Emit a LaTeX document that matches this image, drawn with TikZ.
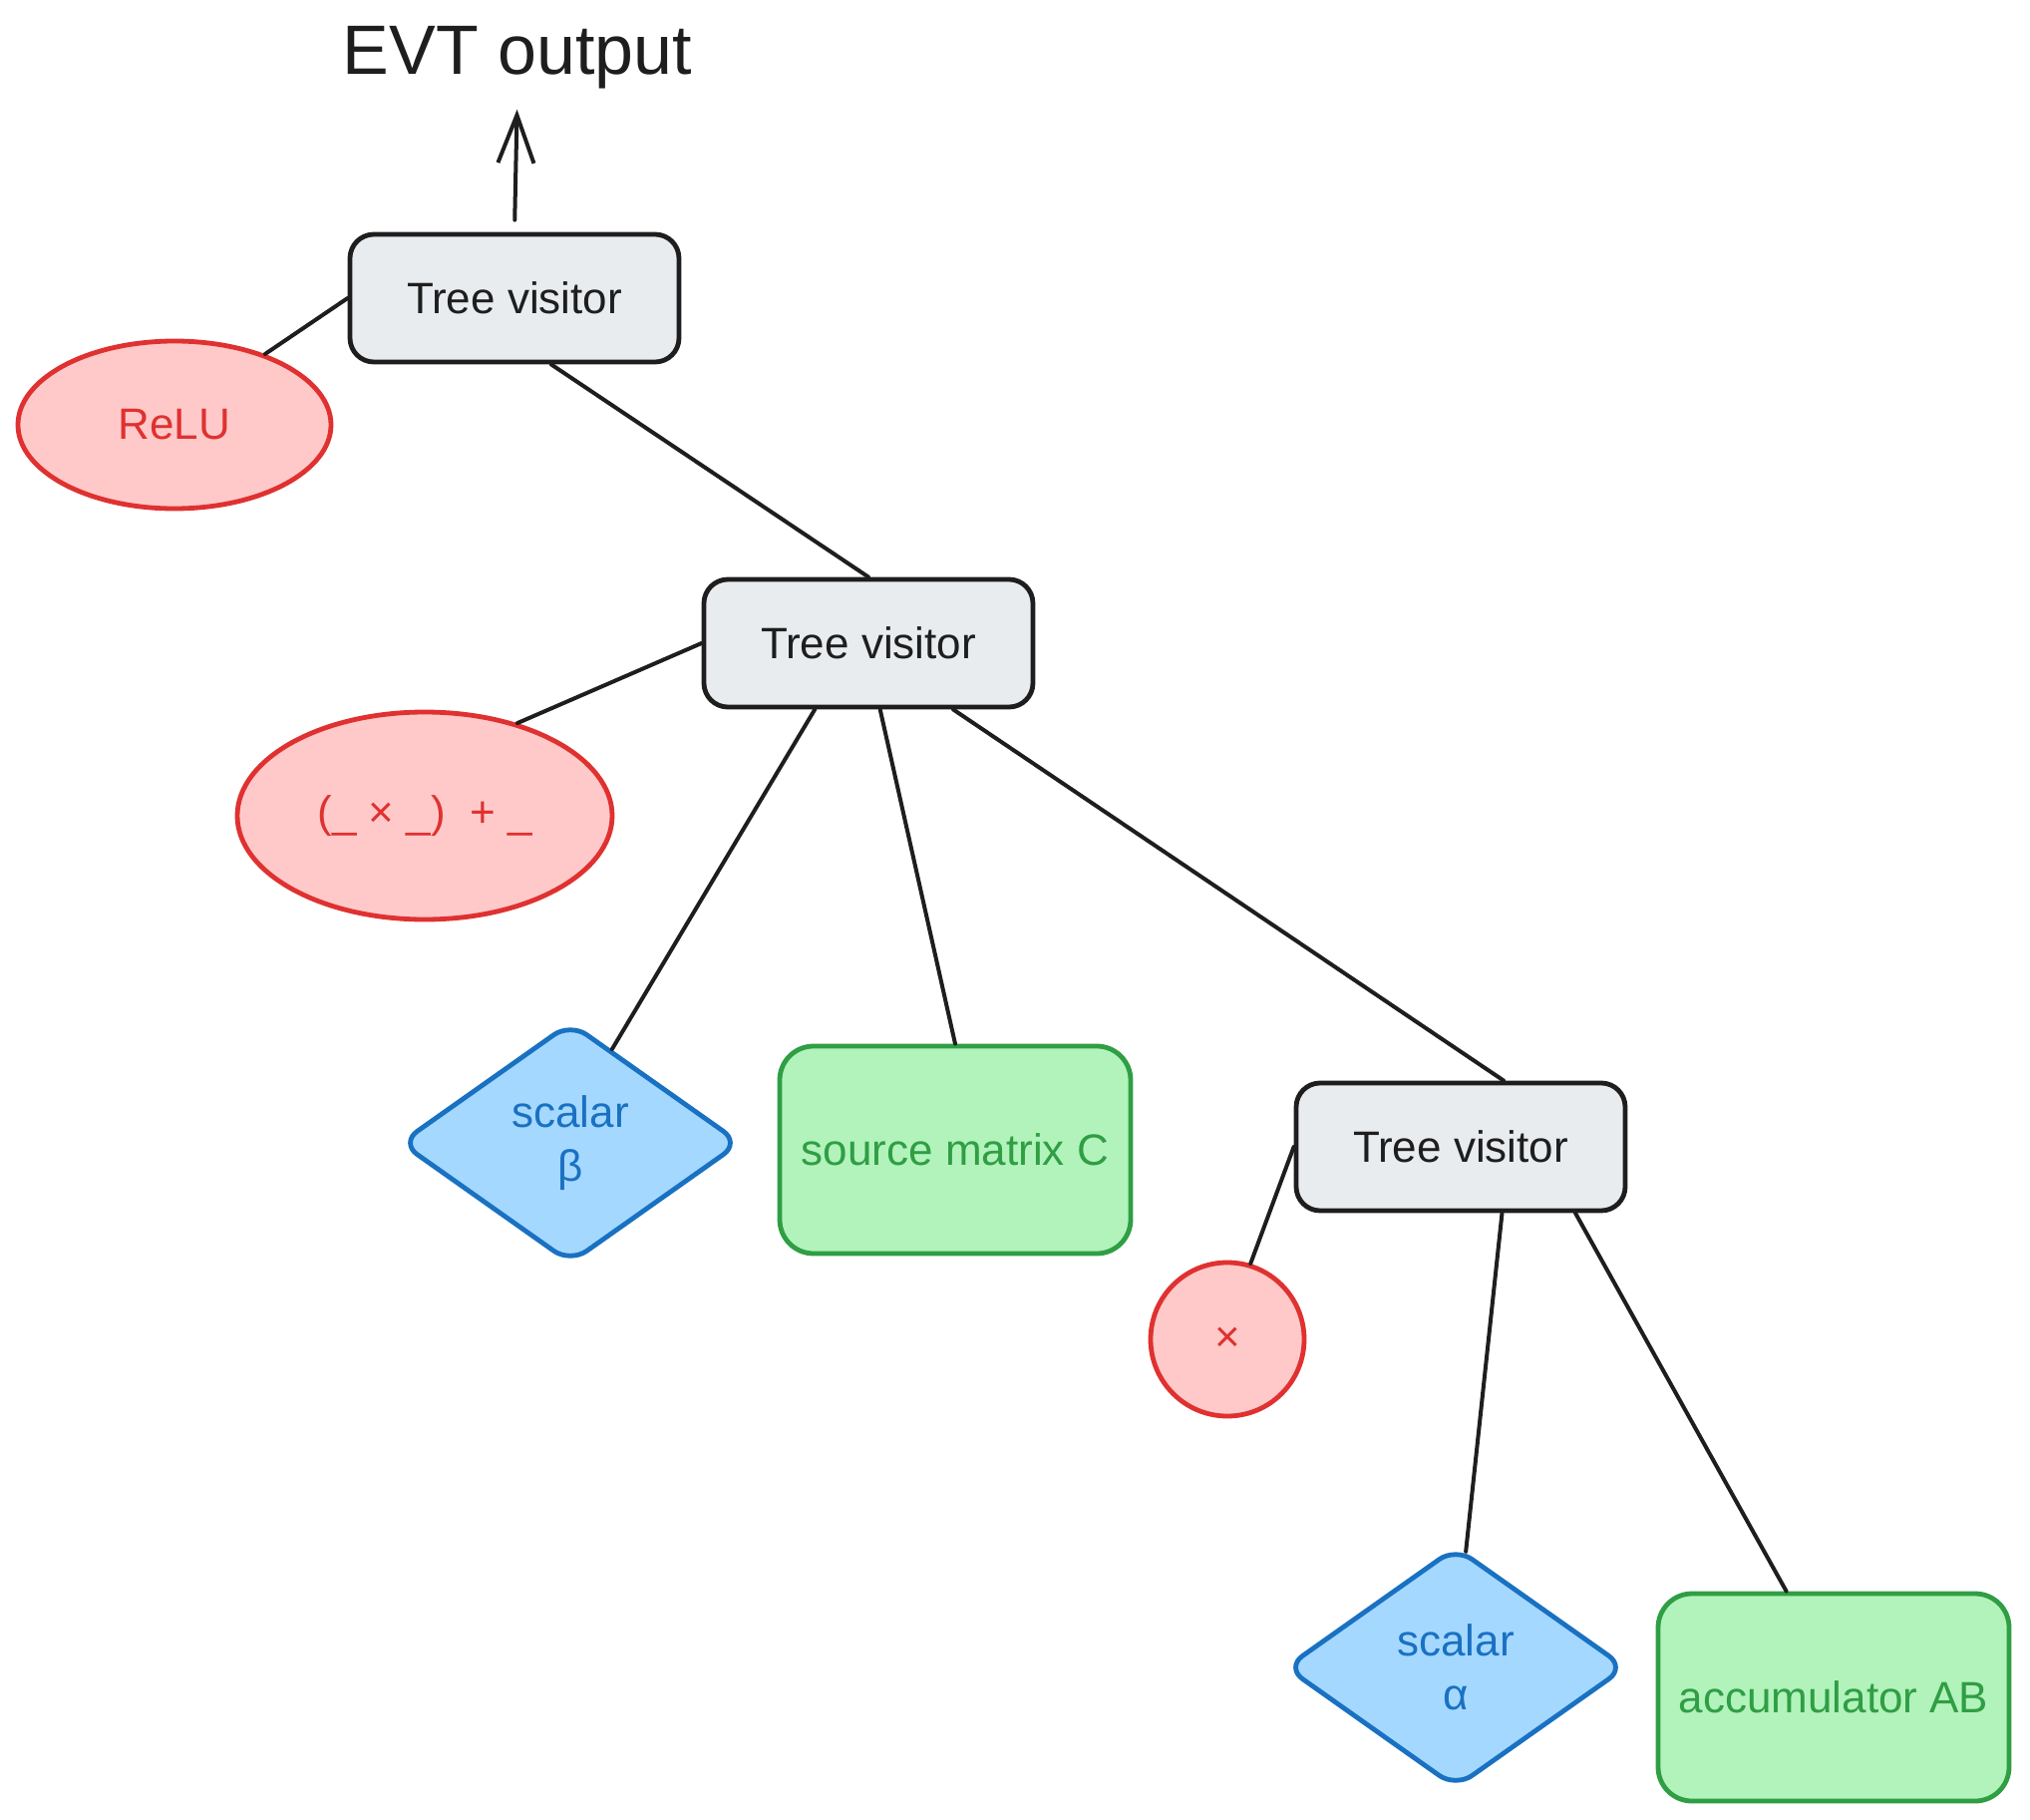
\documentclass[tikz,border=0pt]{standalone}
\usepackage{fontspec}
\setmainfont{Liberation Sans}
\usepackage{xcolor}
\usepackage{tikz}
\usetikzlibrary{shapes.geometric, arrows.meta}

\definecolor{inkdark}{HTML}{1E1E1E}
\definecolor{redline}{HTML}{E03131}
\definecolor{redfill}{HTML}{FFC9C9}
\definecolor{blueline}{HTML}{1971C2}
\definecolor{bluefill}{HTML}{A5D8FF}
\definecolor{greenline}{HTML}{2F9E44}
\definecolor{greenfill}{HTML}{B2F2BB}
\definecolor{grayfill}{HTML}{E9ECEF}

\begin{document}
\begin{tikzpicture}[
        x=0.5pt, y=-0.5pt,
        font=\fontsize{22}{27}\selectfont,
        % Define common styles for nodes
        visitor/.style={rectangle, draw=inkdark, fill=grayfill, line width=2.4pt, rounded corners=12pt, minimum width=165pt, minimum height=64pt, text=inkdark},
        op_ellipse/.style={ellipse, draw=redline, fill=redfill, line width=2.4pt, text=redline, inner sep=0pt},
        op_circle/.style={circle, draw=redline, fill=redfill, line width=2.4pt, text=redline, minimum size=77pt, inner sep=0pt},
        scalar_node/.style={diamond, draw=blueline, fill=bluefill, line width=2.4pt, rounded corners=10pt, text=blueline, align=center, minimum width=171pt, minimum height=121pt, inner sep=0pt},
        matrix_node/.style={rectangle, draw=greenline, fill=greenfill, line width=2.4pt, rounded corners=17pt, text=greenline, minimum width=176pt, minimum height=104pt},
        edge_line/.style={draw=inkdark, line width=2pt, line cap=round},
    ]

    % keep the page at the reference size
    \useasboundingbox (0,0) rectangle (2036,1825);

    % Top of the tree
    \node (evt_out) [inner sep=0pt, text=inkdark, font=\fontsize{35}{42}\selectfont] at (519,58) {EVT output};
    \node (visitor_top) [visitor] at (516,299) {Tree visitor};
    \node (relu) [op_ellipse, minimum width=157pt, minimum height=84pt] at (175,426) {ReLU};

    % Middle level
    \node (visitor_mid) [visitor] at (871,645) {Tree visitor};
    \node (fma_op) [op_ellipse, minimum width=188pt, minimum height=104pt] at (426,818) {(\_ × \_)\ \ + \_};
    \node (beta_scalar) [scalar_node] at (572,1146) {scalar\\β};
    \node (source_c) [matrix_node] at (958,1153) {source matrix C};

    % Bottom level
    \node (visitor_low) [visitor] at (1465,1150) {Tree visitor};
    \node (mul_op) [op_circle] at (1231,1343) {×};
    \node (alpha_scalar) [scalar_node] at (1460,1672) {scalar\\α};
    \node (acc_ab) [matrix_node] at (1839,1702) {accumulator AB};

    % Draw connections
    \draw[edge_line, -{Straight Barb[length=24pt, width=18pt, line width=2pt]}, shorten <=6pt, shorten >=10pt] (visitor_top.north) -- (evt_out.south);
    \draw[edge_line] (visitor_top.west) -- (relu.38);
    \draw[edge_line] (visitor_top.-61) -- (visitor_mid.north);

    \draw[edge_line] (visitor_mid.west) -- (fma_op.45);
    \draw[edge_line] (visitor_mid.-129) -- (beta_scalar.66);
    \draw[edge_line] (visitor_mid.-80) -- (source_c.north);
    \draw[edge_line] (visitor_mid.-38) -- (visitor_low.57);

    \draw[edge_line] (visitor_low.west) -- (mul_op.73);
    \draw[edge_line] (visitor_low.-58) -- (alpha_scalar.85);
    \draw[edge_line] (visitor_low.-30) -- (acc_ab.114);

\end{tikzpicture}
\end{document}
